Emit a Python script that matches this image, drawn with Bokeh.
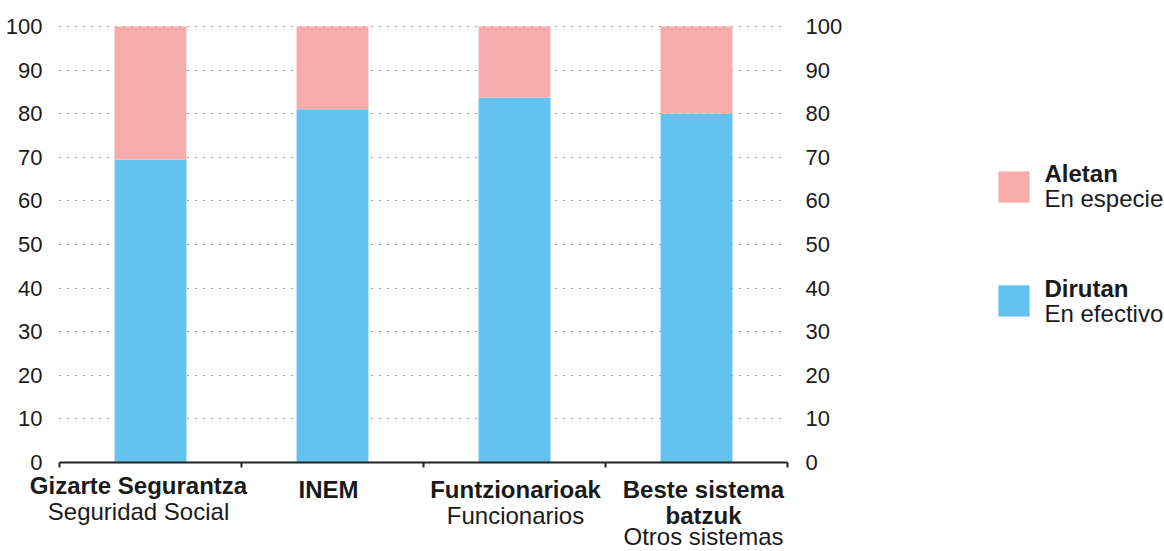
from bokeh.plotting import figure
from bokeh.models import Range1d, LinearAxis, FixedTicker, Label, Legend, LegendItem, ColumnDataSource
from bokeh.embed import file_html
from bokeh.resources import INLINE

# ---- data ----
bold_lines = [["Gizarte Segurantza"], ["INEM"], ["Funtzionarioak"], ["Beste sistema", "batzuk"]]
regular_lines = [["Seguridad Social"], [], ["Funcionarios"], ["Otros sistemas"]]
dirutan = [69.5, 81.0, 83.7, 80.0]
aletan = [30.5, 19.0, 16.3, 20.0]
y_ticks = [0, 10, 20, 30, 40, 50, 60, 70, 80, 90, 100]
legend_bold = ["Aletan", "Dirutan"]
legend_regular = ["En especie", "En efectivo"]

# ---- style / geometry ----
BLUE = "#62C3F1"
PINK = "#F7ACAC"
TXT = "#1a1a1a"
FONT = "Liberation Sans"

W, H = 1164, 551
AX_LEFT, AX_RIGHT = 59, 787        # pixel cols of first / last category boundary
ROW0, ROW100 = 462, 26             # pixel rows of y=0 and y=100
ncat = len(dirutan)
px_x = (AX_RIGHT - AX_LEFT) / ncat
px_y = (ROW0 - ROW100) / 100.0
x_start = -AX_LEFT / px_x
x_end = (W - AX_LEFT) / px_x
y_end = 100 + ROW100 / px_y
y_start = -(H - ROW0) / px_y

CORR = 7                           # label baseline correction (px, upward)
lab_dx = [-12, -4, 1, 7]           # label horizontal nudges (px)
lab_up = [4, 0, 0, 0]              # label vertical nudges (px, upward)
LINE_OFF = [34, 60, 81]            # baseline distance below the axis per text line (px)

xs = [i + 0.5 for i in range(ncat)]
src = ColumnDataSource(dict(x=xs, dirutan=dirutan, aletan=aletan))

p = figure(width=W, height=H, x_range=Range1d(x_start, x_end), y_range=Range1d(y_start, y_end),
           output_backend="svg", toolbar_location=None,
           min_border_left=0, min_border_right=0, min_border_top=0, min_border_bottom=0)
p.outline_line_color = None
p.background_fill_color = "white"
p.border_fill_color = "white"

rs = p.vbar_stack(["dirutan", "aletan"], x="x", width=0.395, source=src,
                  color=[BLUE, PINK], line_color=None)

# x axis at y=0, only over the categories, boundary ticks as minor ticks
xa = p.xaxis[0]
xa.fixed_location = 0
xa.bounds = (0, ncat)
xa.ticker = FixedTicker(ticks=[], minor_ticks=list(range(ncat + 1)))
xa.axis_line_width = 2
xa.axis_line_color = "#222222"
xa.minor_tick_line_width = 2
xa.minor_tick_line_color = "#222222"
xa.minor_tick_out = 5
xa.minor_tick_in = 0
xa.major_tick_line_color = None

# y axes
ya = p.yaxis[0]
ya.fixed_location = 0
ra = LinearAxis(fixed_location=ncat)
p.add_layout(ra, "right")
for ax, st in ((ya, 17), (ra, 18)):
    ax.ticker = FixedTicker(ticks=y_ticks)
    ax.axis_line_color = None
    ax.major_tick_line_color = None
    ax.major_tick_out = 0
    ax.major_tick_in = 0
    ax.minor_tick_line_color = None
    ax.major_label_text_font = FONT
    ax.major_label_text_font_size = "22px"
    ax.major_label_text_color = TXT
    ax.major_label_standoff = st

p.xgrid.visible = False
g = p.ygrid[0]
g.ticker = FixedTicker(ticks=y_ticks[1:])
g.grid_line_color = "#444444"
g.grid_line_dash = "1 7"
g.grid_line_width = 1
g.cross_bounds = (0, ncat)

# category labels
for i in range(ncat):
    lines = [(t, "bold") for t in bold_lines[i]] + [(t, "normal") for t in regular_lines[i]]
    for k, (t, style) in enumerate(lines):
        p.add_layout(Label(x=xs[i], y=(lab_up[i] + CORR - LINE_OFF[k]) / px_y,
                           x_offset=lab_dx[i], text=t, text_align="center",
                           text_baseline="alphabetic", text_font=FONT, text_font_style=style,
                           text_font_size="24px", text_color=TXT))

# legend swatches (library legend) + two-line texts
items = [LegendItem(label="", renderers=[rs[1]]),
         LegendItem(label="", renderers=[rs[0]])]
leg = Legend(items=items, location=(994, H - 320), orientation="vertical",
             glyph_width=39, glyph_height=39, spacing=75, label_standoff=0,
             padding=0, margin=0, border_line_color=None, background_fill_alpha=0,
             label_text_font=FONT, label_text_font_size="24px")
p.add_layout(leg)

leg_x = (1044 - AX_LEFT) / px_x
for t, by in zip(legend_bold, (180, 295)):
    p.add_layout(Label(x=leg_x, y=(ROW0 - by + CORR) / px_y, text=t, text_align="left",
                       text_baseline="alphabetic", text_font=FONT, text_font_style="bold",
                       text_font_size="24px", text_color=TXT))
for t, by in zip(legend_regular, (205, 320)):
    p.add_layout(Label(x=leg_x, y=(ROW0 - by + CORR) / px_y, text=t, text_align="left",
                       text_baseline="alphabetic", text_font=FONT, text_font_size="24px",
                       text_color=TXT))

open("out.html", "w").write(file_html(p, INLINE))
